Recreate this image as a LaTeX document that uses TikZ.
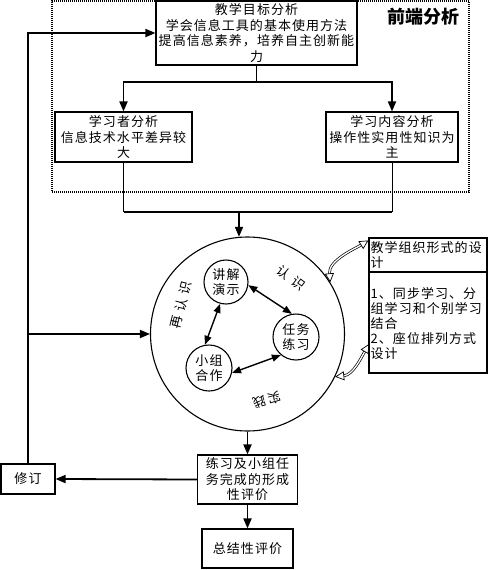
\documentclass[tikz,border=0pt]{standalone}
\usepackage{fontspec}
\setmainfont{Noto Sans CJK SC}[LetterSpace=8]
\newfontfamily\headfont{Noto Sans CJK SC}
\usetikzlibrary{arrows.meta}
\tikzset{
  box/.style={draw, line width=1.1pt, inner sep=1pt, align=center,
    font=\fontsize{13}{15.5}\selectfont},
  ring/.style={draw, circle, line width=1.1pt, inner sep=0pt, align=center,
    font=\fontsize{13}{15.5}\selectfont},
  thinline/.style={line width=0.8pt},
  thickline/.style={line width=1.8pt},
  tip/.style={-{Triangle[length=10pt,width=8pt]}},
  dtip/.style={{Triangle[length=9pt,width=7pt]}-{Triangle[length=9pt,width=7pt]}, line width=1.4pt},
  dbl/.style={draw, double=white, double distance=1.3pt, line width=0.7pt,
    {Triangle[open,length=9pt,width=9pt]}-{Triangle[open,length=9pt,width=9pt]}},
  arclabel/.style={font=\fontsize{13}{13}\selectfont},
}
\begin{document}
\begin{tikzpicture}[x=1pt,y=-1pt]
\useasboundingbox (0,0) rectangle (488,570);
% front-end analysis frame
\node[draw, dash pattern=on 1pt off 1pt, line width=1.2pt, minimum width=417pt, minimum height=191pt, inner sep=0pt] (front) at (260.5,96.5) {};
\node[font=\headfont\bfseries\fontsize{18}{18}\selectfont] (fronttitle) at (423,17) {前端分析};
% boxes
\node[box, minimum width=201pt, minimum height=64pt, fill=white] (goal) at (256.5,33)
  {教学目标分析\\学会信息工具的基本使用方法\\提高信息素养，培养自主创新能\\力};
\node[box, minimum width=137pt, minimum height=50pt] (learner) at (123.5,137)
  {学习者分析\\信息技术水平差异较\\大};
\node[box, minimum width=132pt, minimum height=50pt] (content) at (392,137)
  {学习内容分析\\操作性实用性知识为\\主};
% big circle and inner circles
\node[draw, circle, line width=1.1pt, minimum size=194pt, inner sep=0pt] (big) at (247.5,334) {};
\node[ring, minimum size=44pt] (lec) at (226,282) {讲解\\演示};
\node[ring, minimum size=46pt] (task) at (296,337) {任务\\练习};
\node[ring, minimum size=46pt] (group) at (209,368) {小组\\合作};
\node[arclabel, rotate=-37] (lbl1) at (291,278) {认\hspace{5pt}识};
\node[arclabel, rotate=76] (lbl2) at (181,305) {再\hspace{5pt}认\hspace{5pt}识};
\node[arclabel, rotate=196] (lbl3) at (267,400) {实\hspace{3pt}践};
% organisation box
\node[box, minimum width=118pt, minimum height=34pt, text width=115pt, align=left] (orgtop) at (428,255)
  {教学组织形式的设\\计};
\node[draw, line width=1.1pt, minimum width=118pt, minimum height=101pt, inner sep=0pt] (orgbot) at (428,322.5) {};
\draw[thickline] (orgtop.south west) -- (orgtop.south east);
\node[anchor=north west, align=left, inner sep=0pt, font=\fontsize{13}{15}\selectfont] (orgtext) at (370.5,287)
  {1、同步学习、分\\组学习和个别学习\\结合\\2、座位排列方式\\设计};
% evaluation boxes
\node[box, minimum width=100pt, minimum height=49pt] (formative) at (247.5,479.5)
  {练习及小组任\\务完成的形成\\性评价};
\node[box, minimum width=91pt, minimum height=39pt] (summary) at (247.5,548.5) {总结性评价};
\node[box, minimum width=54pt, minimum height=30pt] (revise) at (28,479) {修订};
% connectors
\coordinate (forkT) at (256.5,82);
\draw[thinline] (goal.south) -- (forkT);
\draw[thickline, tip] (forkT) -| (learner.north);
\draw[thickline, tip] (forkT) -| (content.north);
\coordinate (jL) at (123.5,212);
\coordinate (jR) at (392,212);
\coordinate (jM) at (239,212);
\draw[thinline] (learner.south) -- (jL);
\draw[thinline] (content.south) -- (jR);
\draw[thickline] (jL) -- (jR);
\draw[thickline, tip] (jM) -- (big.95);
\draw[thickline, tip] (big.south) -- (formative.north);
\draw[thickline, tip] (formative.south) -- (summary.north);
\draw[thickline, tip] (formative.west) -- (revise.east);
\draw[thickline, tip] (revise.north) |- (goal.west);
\coordinate (br) at (28,334);
\draw[thickline, tip] (br) -- (big.west);
% inner double arrows
\draw[dtip] (lec.-8) -- (task.100);
\draw[dtip] (lec.-105) -- (group.100);
\draw[dtip] (group.-12) -- (task.-130);
% curved double arrows
\draw[dbl] (big.32) .. controls +(-2,-22) and +(-13,8) .. ([yshift=-3pt]orgtop.north west);
\coordinate (orgin) at (369,344);
\draw[dbl] (big.-26) .. controls +(18,-2) and +(-8,14) .. (orgin);
\end{tikzpicture}
\end{document}
